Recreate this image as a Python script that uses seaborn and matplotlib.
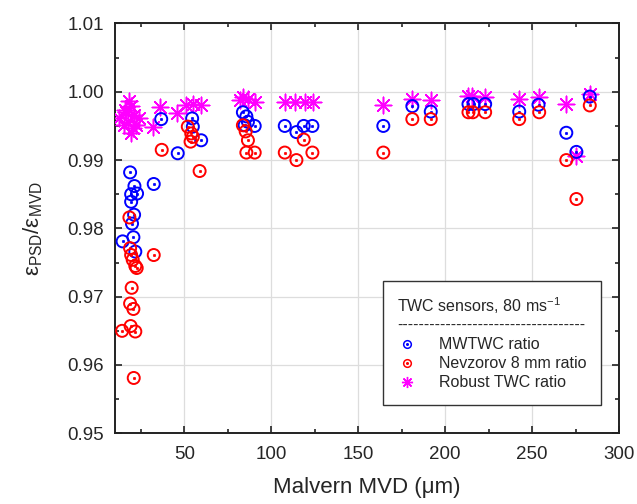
import numpy as np
import pandas as pd
import matplotlib
matplotlib.use("Agg")
import matplotlib.pyplot as plt
import seaborn as sns
from matplotlib.lines import Line2D
from matplotlib.legend_handler import HandlerTuple
from matplotlib.ticker import MultipleLocator, FormatStrFormatter

# ---------------- data ----------------
mw_x = [14.4, 18.7, 21.2, 22.7, 19.3, 19.3, 21.0, 19.8, 20.6, 21.7, 32.3,
        36.6, 46.1, 54.4, 54.8, 59.6,
        83.6, 85.6, 86.5, 90.4, 84.6,
        107.7, 114.4, 118.6, 123.6, 164.4,
        181.1, 191.7, 213.4, 216.3, 223.0, 242.6, 253.7, 269.7, 275.5, 283.2]
mw_y = [0.9781, 0.9882, 0.9862, 0.9851, 0.9850, 0.9839, 0.9820, 0.9807, 0.9787, 0.9766, 0.9865,
        0.9960, 0.9910, 0.9961, 0.9949, 0.9929,
        0.9970, 0.9964, 0.9956, 0.9950, 0.9951,
        0.9950, 0.9941, 0.9950, 0.9950, 0.9950,
        0.9979, 0.9971, 0.9982, 0.9982, 0.9982, 0.9971, 0.9981, 0.9940, 0.9912, 0.9993]

nev_x = [18.3, 18.7, 19.3, 20.2, 21.7, 22.5, 19.6, 18.7, 20.6, 14.1, 19.0, 21.7, 20.8,
         32.3, 36.9, 51.9, 53.9, 54.8, 53.5, 58.7,
         83.6, 85.2, 86.5, 85.6, 90.4,
         107.7, 114.4, 118.6, 123.6, 164.4,
         181.1, 191.7, 213.4, 215.9, 223.0, 242.6, 254.1, 269.7, 275.5, 283.2]
nev_y = [0.9816, 0.9771, 0.9761, 0.9754, 0.9745, 0.9742, 0.9713, 0.9690, 0.9682, 0.9650, 0.9657, 0.9649, 0.9581,
         0.9761, 0.9915, 0.9949, 0.9939, 0.9934, 0.9927, 0.9884,
         0.9951, 0.9942, 0.9929, 0.9911, 0.9911,
         0.9911, 0.9900, 0.9930, 0.9911, 0.9911,
         0.9960, 0.9960, 0.9970, 0.9970, 0.9970, 0.9960, 0.9970, 0.9900, 0.9843, 0.9980]

rob_x = [18.3, 12.5, 16.4, 21.2, 17.3, 20.2, 22.1, 19.3, 15.4, 24.0, 16.0, 19.4,
         36.0, 32.1, 45.6, 51.0, 54.8, 59.6,
         83.6, 86.5, 90.4, 81.7,
         107.7, 113.4, 119.2, 124.0, 164.4,
         181.1, 191.7, 213.4, 215.3, 223.0, 242.6, 253.7, 269.7, 275.5, 283.2]
rob_y = [0.9986, 0.9962, 0.9971, 0.9966, 0.9956, 0.9947, 0.9951, 0.9939, 0.9951, 0.9961, 0.9973, 0.9979,
         0.9978, 0.9949, 0.9969, 0.9981, 0.9982, 0.9980,
         0.9993, 0.9990, 0.9985, 0.9988,
         0.9985, 0.9985, 0.9985, 0.9985, 0.9981,
         0.9989, 0.9988, 0.9994, 0.9994, 0.9992, 0.9990, 0.9993, 0.9982, 0.9906, 0.9997]

labels = ["MWTWC ratio", "Nevzorov 8 mm ratio", "Robust TWC ratio"]
colors = ["#0000ff", "#ff0000", "#ff00ff"]

x_ticks = [50, 100, 150, 200, 250, 300]
y_ticks = [0.95, 0.96, 0.97, 0.98, 0.99, 1.00, 1.01]

# ---------------- style ----------------
sns.set_style("ticks")
plt.rcParams["font.family"] = ["Liberation Sans", "DejaVu Sans"]
plt.rcParams["mathtext.fontset"] = "custom"
plt.rcParams["mathtext.rm"] = "Liberation Sans"
plt.rcParams["mathtext.it"] = "Liberation Sans"

fig = plt.figure(figsize=(6.37, 5.04), dpi=100)
ax = fig.add_axes([0.1805, 0.1403, 0.7912, 0.8131])

mw = pd.DataFrame({"x": mw_x, "y": mw_y})
nev = pd.DataFrame({"x": nev_x, "y": nev_y})
rob = pd.DataFrame({"x": rob_x, "y": rob_y})

# robust stars
sns.scatterplot(data=rob, x="x", y="y", ax=ax, marker=(8, 2, 0), s=140,
                color=colors[2], edgecolor=colors[2], linewidth=1.1, zorder=3, legend=False)
# circles with dot
for df, c in [(mw, colors[0]), (nev, colors[1])]:
    sns.scatterplot(data=df, x="x", y="y", ax=ax, marker="o", s=75,
                    facecolors="none", edgecolor=c, linewidth=1.4, zorder=4, legend=False)
    sns.scatterplot(data=df, x="x", y="y", ax=ax, marker="o", s=3,
                    color=c, edgecolor=c, linewidth=0.5, zorder=4, legend=False)

ax.set_xlim(10, 300)
ax.set_ylim(0.95, 1.01)
ax.set_xticks(x_ticks)
ax.set_yticks(y_ticks)
ax.yaxis.set_major_formatter(FormatStrFormatter("%.2f"))
ax.xaxis.set_minor_locator(MultipleLocator(25))
ax.yaxis.set_minor_locator(MultipleLocator(0.005))
ax.tick_params(which="both", direction="in", top=True, right=True, labelsize=13.5,
               width=1.2, color="#222222")
ax.tick_params(axis="x", which="major", pad=9)
ax.tick_params(axis="y", which="major", pad=8)
ax.tick_params(which="major", length=5)
ax.tick_params(which="minor", length=3)
ax.grid(True, which="major", color="#dddddd", linewidth=0.9, zorder=0)
ax.set_axisbelow(True)
for sp in ax.spines.values():
    sp.set_linewidth(1.4)
    sp.set_color("#222222")

ax.set_xlabel("Malvern MVD (\u03bcm)", fontsize=16, labelpad=10)
ax.set_ylabel(r"$\mathregular{\varepsilon_{PSD}/\varepsilon_{MVD}}$", fontsize=16, labelpad=16)

# legend
handles = []
for c, kind in zip(colors, ["c", "c", "s"]):
    if kind == "c":
        h = (Line2D([], [], marker="o", ls="none", markersize=5.5, markerfacecolor="none",
                    markeredgecolor=c, markeredgewidth=1.1),
             Line2D([], [], marker="o", ls="none", markersize=1.2, color=c))
    else:
        h = Line2D([], [], marker=(8, 2, 0), ls="none", markersize=8, color=c,
                   markeredgecolor=c, markeredgewidth=1.0)
    handles.append(h)

leg = ax.legend(handles, labels, handler_map={tuple: HandlerTuple(ndivide=1)},
                title="TWC sensors, 80 ms$^{-1}$\n" + "-" * 35,
                loc="lower left", bbox_to_anchor=(0.532, 0.07), fontsize=11.5,
                title_fontsize=11.5, frameon=True, fancybox=False, edgecolor="#333333",
                framealpha=1, handlelength=1.2, handletextpad=1.4, borderpad=0.9,
                labelspacing=0.25, borderaxespad=0)
leg.get_frame().set_linewidth(1.0)
leg._legend_box.align = "left"

fig.savefig("out.png", dpi=100)
